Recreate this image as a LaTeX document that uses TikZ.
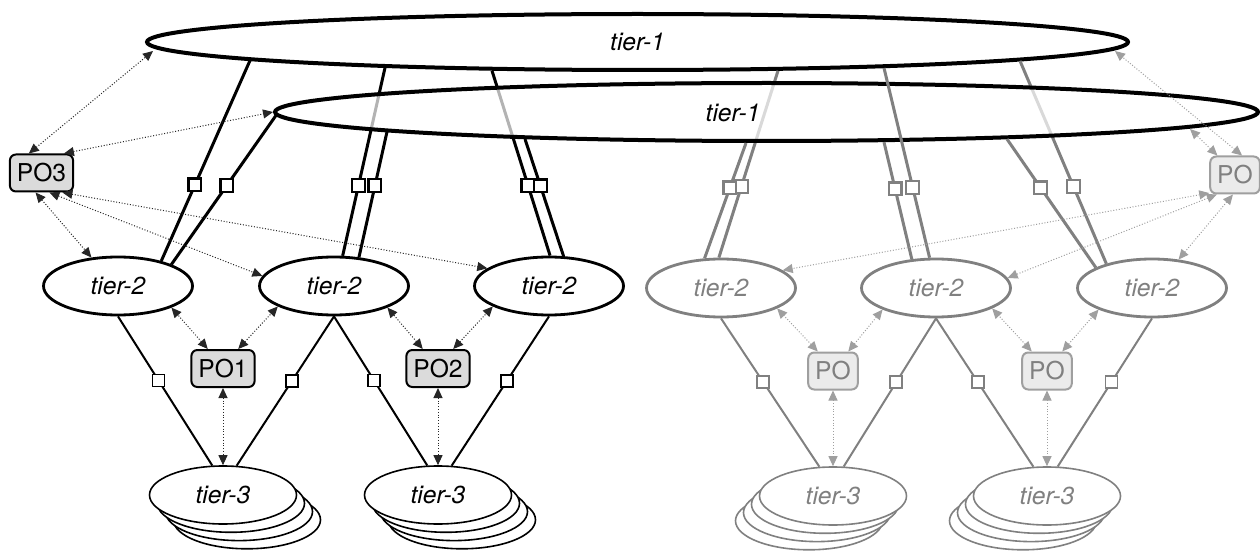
\documentclass[tikz,border=0pt]{standalone}
\usepackage{fontspec}
\setmainfont{TeX Gyre Heros}
\usetikzlibrary{arrows.meta,shapes.geometric,shadows}

\begin{document}
\begin{tikzpicture}[x=0.5pt,y=-0.5pt,
    font=\fontsize{12.3}{14}\selectfont,
    tier/.style={ellipse,draw,fill=white,inner sep=0pt,font=\fontsize{12.3}{14}\selectfont\itshape},
    tierone/.style={tier,line width=2pt,minimum width=490.5pt,minimum height=28pt},
    tiertwo/.style={tier,line width=1.4pt,minimum width=74.5pt,minimum height=29pt},
    tierthree/.style={tier,line width=0.8pt,minimum width=73.5pt,minimum height=29pt},
    stackr/.style={copy shadow={shadow xshift=12pt,shadow yshift=-12.4pt},
                   copy shadow={shadow xshift=8pt,shadow yshift=-8.3pt},
                   copy shadow={shadow xshift=4pt,shadow yshift=-4.15pt}},
    stackl/.style={copy shadow={shadow xshift=-12pt,shadow yshift=-12.4pt},
                   copy shadow={shadow xshift=-8pt,shadow yshift=-8.3pt},
                   copy shadow={shadow xshift=-4pt,shadow yshift=-4.15pt}},
    dim/.style={draw=gray,text=gray},
    po/.style={draw,rounded corners=3pt,fill=black!14,line width=1pt,minimum height=18.5pt,inner xsep=3.5pt,inner ysep=0pt},
    dimpo/.style={po,draw=gray!75,fill=black!8,text=gray},
    port/.style={draw,fill=white,rectangle,inner sep=0pt,minimum size=6.4pt,line width=1.1pt},
    lowport/.style={port,minimum size=6pt,line width=0.9pt},
    uplink/.style={line width=1.5pt},
    downlink/.style={line width=1pt},
    ctrl/.style={line width=0.5pt,black!85,dash pattern=on 0.5pt off 0.9pt,
                 arrows={Triangle[length=5pt,width=4.5pt]-Triangle[length=5pt,width=4.5pt]}},
    dimctrl/.style={ctrl,gray!75}
  ]
  \useasboundingbox (0,0) rectangle (1260,551);

  \node[tierone] (t1top) at (637.5,42) {tier-1};

  \node[tiertwo] (b1) at (118,286) {tier-2};
  \node[tiertwo] (b2) at (334,286) {tier-2};
  \node[tiertwo] (b3) at (549,286) {tier-2};
  \node[tiertwo,dim] (g1) at (721,288) {tier-2};
  \node[tiertwo,dim] (g2) at (936,288) {tier-2};
  \node[tiertwo,dim] (g3) at (1152,288) {tier-2};

  \node[tierthree,stackr] (t3a) at (223,495) {tier-3};
  \node[tierthree,stackr] (t3b) at (438,495) {tier-3};
  \node[tierthree,dim,stackl] (t3c) at (833,496) {tier-3};
  \node[tierthree,dim,stackl] (t3d) at (1047,496) {tier-3};

  \node[po] (po1) at (223,368.5) {PO1};
  \node[po] (po2) at (438,368.5) {PO2};
  \node[po] (po3) at (41.5,173) {PO3};
  \node[dimpo] (poa) at (833,371) {PO};
  \node[dimpo] (pob) at (1047,371) {PO};
  \node[dimpo] (por) at (1235,175) {PO};

  % attachment points on the rims of the two rings
  \coordinate (ra0) at (153,51);
  \coordinate (ra1) at (250,60.5);
  \coordinate (ra2) at (385,67.8);
  \coordinate (ra3) at (492,70.7);
  \coordinate (ra4) at (778,70.8);
  \coordinate (ra5) at (884,68);
  \coordinate (ra6) at (1020,60.9);
  \coordinate (ra7) at (1115,51);
  \coordinate (rb1) at (276,115.4);
  \coordinate (rb2) at (387,131.8);
  \coordinate (rb3) at (525,139);
  \coordinate (rb4) at (746,143);
  \coordinate (rb5) at (884,142.1);
  \coordinate (rb6) at (1007,139.1);
  \coordinate (rb7) at (1190,129);

  % links up to the upper ring (they show faintly through the lower one)
  \draw[uplink] (ra1) -- node[port,pos=.62] (pa1) {} (b1.30);
  \draw[uplink] (ra2) -- node[port,pos=.625] (pa2) {} (b2.74.6);
  \draw[uplink] (ra3) -- node[port,pos=.62] (pa3) {} (b3.88);
  \draw[uplink,gray] (ra4) -- node[port,pos=.62] (pa4) {} (g1.94);
  \draw[uplink,gray] (ra6) -- node[port,pos=.62] (pa6) {} (g3.152.8);

  \node[tierone,minimum width=491.5pt,minimum height=29pt,fill opacity=.7] (t1low) at (766.5,112) {};
  \node[font=\fontsize{12.3}{14}\selectfont\itshape] (t1lowtxt) at (733,113) {tier-1};

  \draw[uplink,gray] (ra5) -- node[port,pos=.63] (pa5) {} (g2.102);

  % links up to the lower ring
  \draw[uplink] (rb1) -- node[port,pos=.47] (pb1) {} (b1.22.8);
  \draw[uplink] (rb2) -- node[port,pos=.43] (pb2) {} (b2.49);
  \draw[uplink] (rb3) -- node[port,pos=.40] (pb3) {} (b3.64);
  \draw[uplink,gray] (rb4) -- node[port,pos=.39] (pb4) {} (g1.119.5);
  \draw[uplink,gray] (rb5) -- node[port,pos=.40] (pb5) {} (g2.130);
  \draw[uplink,gray] (rb6) -- node[port,pos=.38] (pb6) {} (g3.160.4);

  % tier-2 down to tier-3
  \draw[downlink] (b1.south) -- node[lowport,pos=.43] (pc1) {} (t3a.110);
  \draw[downlink] (b2.south) -- node[lowport,pos=.43] (pc2) {} (t3a.65);
  \draw[downlink] (b2.south) -- node[lowport,pos=.43] (pc3) {} (t3b.110);
  \draw[downlink] (b3.south) -- node[lowport,pos=.43] (pc4) {} (t3b.65);
  \draw[downlink,gray] (g1.south) -- node[lowport,pos=.43] (pc5) {} (t3c.115);
  \draw[downlink,gray] (g2.south) -- node[lowport,pos=.43] (pc6) {} (t3c.70);
  \draw[downlink,gray] (g2.south) -- node[lowport,pos=.43] (pc7) {} (t3d.115);
  \draw[downlink,gray] (g3.south) -- node[lowport,pos=.43] (pc8) {} (t3d.70);

  % PO control arrows
  \draw[ctrl] (po1.128) -- (b1.338);
  \draw[ctrl] (po1.52) -- (b2.200);
  \draw[ctrl] (po1.south) -- (t3a.north);
  \draw[ctrl] (po2.128) -- (b2.338);
  \draw[ctrl] (po2.52) -- (b3.200);
  \draw[ctrl] (po2.south) -- (t3b.north);
  \draw[ctrl] (po3.123) -- (ra0);
  \draw[ctrl] (po3.41.5) -- (t1low.west);
  \draw[ctrl] (po3.253) -- (b1.133);
  \draw[ctrl] (po3.292) -- (b2.172);
  \draw[ctrl] (po3.317) -- (b3.164);

  \draw[dimctrl] (poa.128) -- (g1.340);
  \draw[dimctrl] (poa.52) -- (g2.202);
  \draw[dimctrl] (poa.south) -- (t3c.north);
  \draw[dimctrl] (pob.128) -- (g2.340);
  \draw[dimctrl] (pob.52) -- (g3.202);
  \draw[dimctrl] (pob.south) -- (t3d.north);
  \draw[dimctrl] (por.70.7) -- (ra7);
  \draw[dimctrl] (por.132) -- (rb7);
  \draw[dimctrl] (por.215) -- (g1.16.5);
  \draw[dimctrl] (por.227) -- (g2.8);
  \draw[dimctrl] (por.264) -- (g3.47);
\end{tikzpicture}
\end{document}
